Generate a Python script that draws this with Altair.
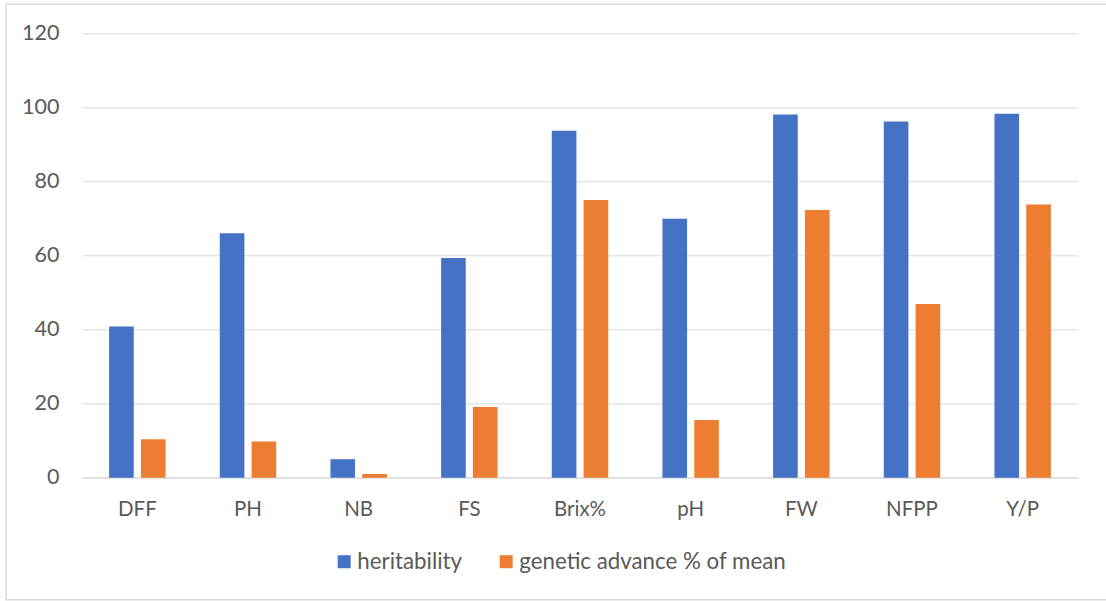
import altair as alt
import pandas as pd

# Trait abbreviations and the two estimates per trait
traits = ["DFF", "PH", "NB", "FS", "Brix%", "pH", "FW", "NFPP", "Y/P"]
heritability = [40.8, 66.0, 5.0, 59.3, 93.7, 69.9, 98.1, 96.2, 98.3]
genetic_advance = [10.4, 9.8, 1.0, 19.1, 75.0, 15.6, 72.3, 46.9, 73.8]
series = ["heritability", "genetic advance % of mean"]
colors = ["#4472C4", "#ED7D31"]
y_ticks = [0, 20, 40, 60, 80, 100, 120]

rows = []
for t, h, g in zip(traits, heritability, genetic_advance):
    rows.append({"trait": t, "series": series[0], "value": h})
    rows.append({"trait": t, "series": series[1], "value": g})
df = pd.DataFrame(rows)

FONT = "Lato"
TEXT = "#595959"
GRID = "#d9d9d9"

bars = alt.Chart(df).mark_bar().encode(
    x=alt.X(
        "trait:N",
        sort=traits,
        scale=alt.Scale(paddingInner=0.49, paddingOuter=0.245),
        axis=alt.Axis(
            title=None, labelAngle=0, ticks=False, tickSize=0,
            domain=True, domainColor=GRID, domainWidth=1,
            labelPadding=22, grid=False, labelFontSize=20.5,
        ),
    ),
    xOffset=alt.XOffset(
        "series:N", sort=series,
        scale=alt.Scale(domain=series, paddingInner=0.226, paddingOuter=0),
    ),
    y=alt.Y(
        "value:Q",
        scale=alt.Scale(domain=[0, 120], nice=False),
        axis=alt.Axis(
            title=None, values=y_ticks, domain=False, ticks=False, tickSize=0,
            grid=True, gridColor=GRID, gridWidth=1, labelPadding=23,
            labelFontSize=21.5,
        ),
    ),
    color=alt.Color(
        "series:N",
        scale=alt.Scale(domain=series, range=colors),
        legend=alt.Legend(
            title=None, orient="none", direction="horizontal",
            legendX=251, legendY=517,
            symbolType="square", symbolSize=169, symbolStrokeWidth=0,
            labelOffset=2, columnPadding=33, padding=0, labelLimit=0,
            labelFont=FONT, labelFontSize=22.3, labelColor=TEXT,
        ),
    ),
)

# Thin frame around the whole chart
frame = alt.Chart(pd.DataFrame({"k": [0]})).mark_rect(
    fillOpacity=0, stroke=GRID, strokeWidth=1.5
).encode(
    x=alt.value(-76), x2=alt.value(1045),
    y=alt.value(-29), y2=alt.value(566.5),
)

chart = alt.layer(frame, bars).properties(
    width=996,
    height=444.4,
    autosize=alt.AutoSizeParams(type="none"),
    padding={"left": 82, "top": 33.3, "right": 28, "bottom": 123.3},
    background="white",
).configure_view(stroke=None).configure_axis(
    labelFont=FONT, labelColor=TEXT,
)

chart.save("out.html", embed_options={"renderer": "svg", "actions": False})
